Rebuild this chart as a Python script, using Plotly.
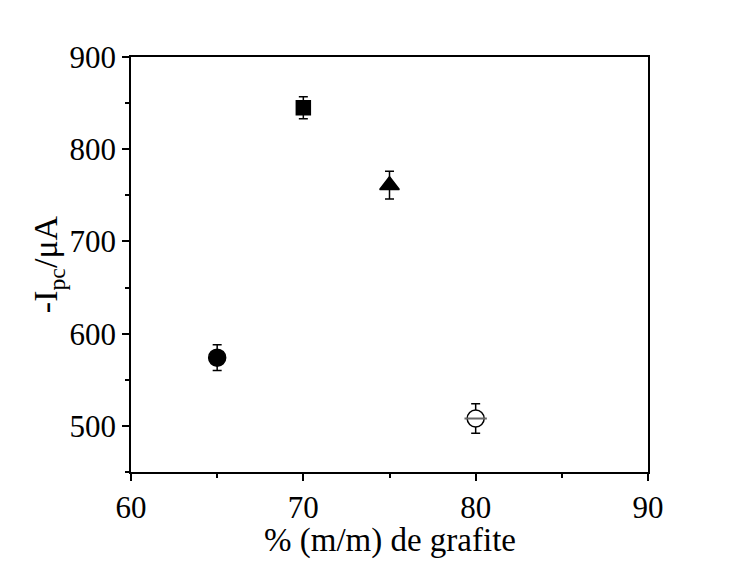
import plotly.graph_objects as go

# Graphite content (% m/m) and cathodic peak current for each electrode
grafite = [65, 70, 75, 80]
ipc = [574, 845, 761, 508]
ipc_err = [14, 12, 15, 16]
symbols = ["circle", "square", "triangle-up", "circle"]
fills = ["black", "black", "black", "white"]
sizes = [17, 14, 17, 17]

fig = go.Figure()
for x, y, e, s, f, sz in zip(grafite, ipc, ipc_err, symbols, fills, sizes):
    fig.add_trace(go.Scatter(
        x=[x], y=[y], mode="markers",
        error_y=dict(type="data", array=[e], color="black", thickness=1.5, width=4.5),
        marker=dict(symbol=s, size=sz, color=f, line=dict(color="black", width=1.5)),
        showlegend=False,
    ))
    if f == "white":
        # grey bar across the hollow marker
        fig.add_trace(go.Scatter(
            x=[x], y=[y], mode="markers",
            marker=dict(symbol="line-ew-open", size=sz - 1, color="#666",
                        line=dict(color="#666", width=2)),
            showlegend=False,
        ))

serif = "Liberation Serif"
axis_common = dict(
    showline=True, linecolor="black", linewidth=1.5, mirror=True,
    ticks="outside", ticklen=7, tickwidth=1.5, tickcolor="black",
    showgrid=False, zeroline=False,
    tickfont=dict(family=serif, size=31, color="black"),
)

fig.update_xaxes(
    range=[60, 90], tick0=60, dtick=10,
    minor=dict(ticks="outside", ticklen=4, tickwidth=1.5, tickcolor="black", dtick=5, showgrid=False),
    **axis_common,
)
fig.update_yaxes(
    range=[450, 900], tick0=500, dtick=100,
    minor=dict(ticks="outside", ticklen=4, tickwidth=1.5, tickcolor="black", dtick=50, showgrid=False),
    title=dict(text="-I<sub>pc</sub>/μA", font=dict(family=serif, size=34, color="black"), standoff=0),
    **axis_common,
)

# x-axis title placed just under the tick labels
fig.add_annotation(
    text="% (m/m) de grafite", xref="paper", yref="paper",
    x=0.5, y=-0.165, xanchor="center", yanchor="middle", showarrow=False,
    font=dict(family=serif, size=33, color="black"),
)

fig.update_layout(
    width=751, height=566,
    margin=dict(l=131, r=103, t=57, b=94),
    plot_bgcolor="white", paper_bgcolor="white",
)

fig.write_html("out.html")
